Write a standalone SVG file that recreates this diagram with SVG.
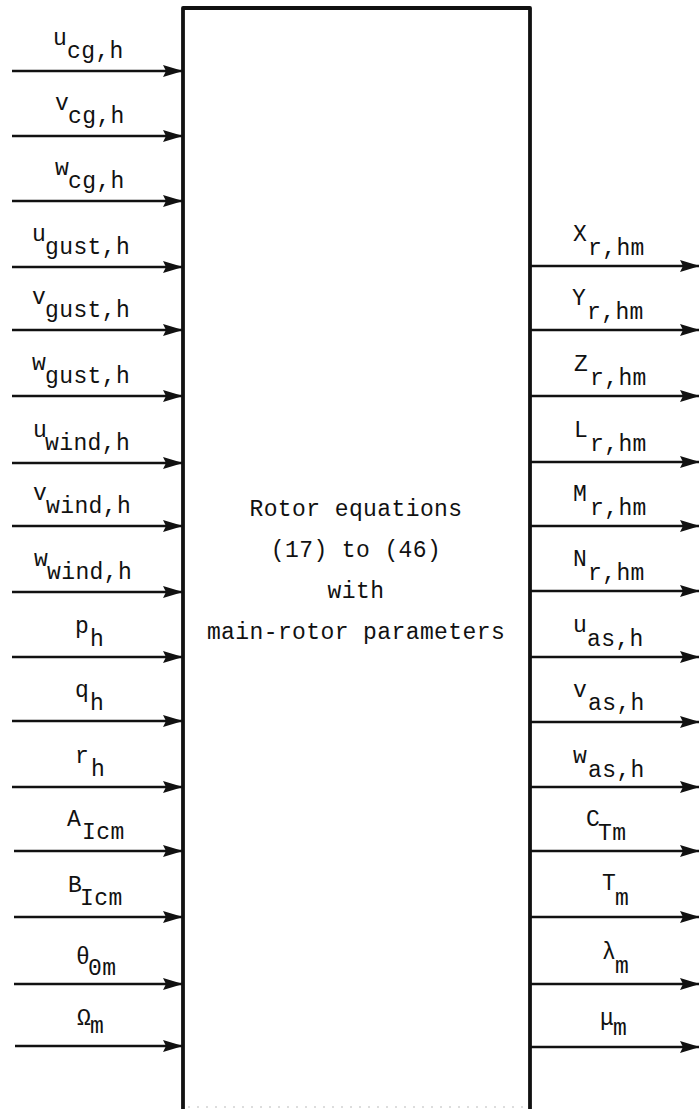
<svg xmlns="http://www.w3.org/2000/svg" width="699" height="1109" viewBox="0 0 699 1109">
<style>
text{font-family:"Liberation Mono","DejaVu Sans Mono",monospace;font-size:23px;letter-spacing:0.4px;fill:#111}
.c{text-anchor:middle}
.box{fill:none;stroke:#111;stroke-width:3.8;stroke-linejoin:round}
.a{stroke:#111;stroke-width:2.6;fill:none;marker-end:url(#ah)}
</style>
<defs>
<marker id="ah" markerUnits="userSpaceOnUse" markerWidth="21" markerHeight="13" refX="20" refY="6.5" orient="auto">
<path d="M0,0.5 L20,6.5 L0,12.5 L3,6.5 Z" fill="#111"/>
</marker>
</defs>
<g id="block">
<path class="box" d="M183,1109 V8 H530 V1109"/>
<line x1="188" y1="1107" x2="526" y2="1107" stroke="#bbb" stroke-width="1" stroke-dasharray="2,7"/>
<text class="c" x="356" y="516">Rotor equations</text>
<text class="c" x="356" y="557">(17) to (46)</text>
<text class="c" x="356" y="598">with</text>
<text class="c" x="356" y="639">main-rotor parameters</text>
</g>
<g id="connectors">
<line class="a" x1="12" y1="71" x2="183" y2="71"/>
<line class="a" x1="12" y1="136" x2="183" y2="136"/>
<line class="a" x1="12" y1="201" x2="183" y2="201"/>
<line class="a" x1="12" y1="267" x2="183" y2="267"/>
<line class="a" x1="12" y1="330" x2="183" y2="330"/>
<line class="a" x1="12" y1="396" x2="183" y2="396"/>
<line class="a" x1="12" y1="463" x2="183" y2="463"/>
<line class="a" x1="12" y1="526" x2="183" y2="526"/>
<line class="a" x1="12" y1="592" x2="183" y2="592"/>
<line class="a" x1="12" y1="657" x2="183" y2="657"/>
<line class="a" x1="12" y1="721" x2="183" y2="721"/>
<line class="a" x1="12" y1="787" x2="183" y2="787"/>
<line class="a" x1="14" y1="851" x2="183" y2="851"/>
<line class="a" x1="14" y1="917" x2="183" y2="917"/>
<line class="a" x1="14" y1="984" x2="183" y2="984"/>
<line class="a" x1="15" y1="1046" x2="183" y2="1046"/>
<line class="a" x1="530" y1="266" x2="700" y2="266"/>
<line class="a" x1="530" y1="330" x2="700" y2="330"/>
<line class="a" x1="530" y1="396" x2="700" y2="396"/>
<line class="a" x1="530" y1="462" x2="700" y2="462"/>
<line class="a" x1="530" y1="526" x2="700" y2="526"/>
<line class="a" x1="530" y1="591" x2="700" y2="591"/>
<line class="a" x1="530" y1="657" x2="700" y2="657"/>
<line class="a" x1="530" y1="722" x2="700" y2="722"/>
<line class="a" x1="530" y1="787" x2="700" y2="787"/>
<line class="a" x1="530" y1="851" x2="700" y2="851"/>
<line class="a" x1="530" y1="917" x2="700" y2="917"/>
<line class="a" x1="530" y1="984" x2="700" y2="984"/>
<line class="a" x1="530" y1="1047" x2="700" y2="1047"/>
</g>
<g id="inputs">
<text><tspan x="53" y="45">u</tspan><tspan x="67" y="58">cg,h</tspan></text>
<text><tspan x="55" y="110">v</tspan><tspan x="68" y="123">cg,h</tspan></text>
<text><tspan x="55" y="175">w</tspan><tspan x="68" y="188">cg,h</tspan></text>
<text><tspan x="32" y="241">u</tspan><tspan x="45" y="254">gust,h</tspan></text>
<text><tspan x="32" y="304">v</tspan><tspan x="45" y="317">gust,h</tspan></text>
<text><tspan x="32" y="370">w</tspan><tspan x="45" y="383">gust,h</tspan></text>
<text><tspan x="33" y="437">u</tspan><tspan x="45" y="450">wind,h</tspan></text>
<text><tspan x="33" y="500">v</tspan><tspan x="46" y="513">wind,h</tspan></text>
<text><tspan x="34" y="566">w</tspan><tspan x="47" y="579">wind,h</tspan></text>
<text><tspan x="75" y="633">p</tspan><tspan x="90" y="646">h</tspan></text>
<text><tspan x="75" y="697">q</tspan><tspan x="90" y="710">h</tspan></text>
<text><tspan x="75" y="763">r</tspan><tspan x="91" y="776">h</tspan></text>
<text><tspan x="67" y="826">A</tspan><tspan x="82" y="839">Icm</tspan></text>
<text><tspan x="68" y="892">B</tspan><tspan x="80" y="905">Icm</tspan></text>
<text><tspan x="76" y="964">θ</tspan><tspan x="88" y="975">0m</tspan></text>
<text><tspan x="77" y="1025">Ω</tspan><tspan x="90" y="1033">m</tspan></text>
</g>
<g id="outputs">
<text><tspan x="573" y="241">X</tspan><tspan x="588" y="255">r,hm</tspan></text>
<text><tspan x="572" y="305">Y</tspan><tspan x="587" y="319">r,hm</tspan></text>
<text><tspan x="574" y="371">Z</tspan><tspan x="590" y="385">r,hm</tspan></text>
<text><tspan x="574" y="437">L</tspan><tspan x="590" y="451">r,hm</tspan></text>
<text><tspan x="573" y="501">M</tspan><tspan x="590" y="515">r,hm</tspan></text>
<text><tspan x="573" y="566">N</tspan><tspan x="588" y="580">r,hm</tspan></text>
<text><tspan x="573" y="632">u</tspan><tspan x="587" y="646">as,h</tspan></text>
<text><tspan x="573" y="697">v</tspan><tspan x="588" y="710">as,h</tspan></text>
<text><tspan x="573" y="763">w</tspan><tspan x="588" y="777">as,h</tspan></text>
<text><tspan x="586" y="826">C</tspan><tspan x="598" y="840">Tm</tspan></text>
<text><tspan x="602" y="890">T</tspan><tspan x="615" y="905">m</tspan></text>
<text><tspan x="602" y="959">λ</tspan><tspan x="615" y="973">m</tspan></text>
<text><tspan x="600" y="1025">μ</tspan><tspan x="613" y="1035">m</tspan></text>
</g>
</svg>
